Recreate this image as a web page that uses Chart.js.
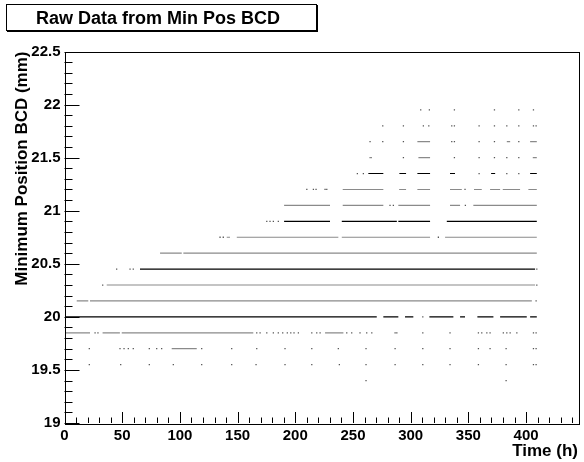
<!DOCTYPE html>
<html>
<head>
<meta charset="utf-8">
<script src="https://cdn.jsdelivr.net/npm/chart.js@4.4.1/dist/chart.umd.min.js"></script>
<style>
  body { margin: 0; background: #fff; }
  #wrap { position: relative; width: 584px; height: 462px; }
  #title {
    position: absolute; left: 6px; top: 4px; width: 309px; height: 25px;
    border: 1px solid #000; box-shadow: 1px 1px 0 #000; background: #fff;
    font: bold 18px "Liberation Sans", Arial, sans-serif; line-height: 26px;
    box-sizing: content-box; text-indent: 29px; white-space: nowrap;
  }
  canvas { position: absolute; left: 0; top: 0; }
</style>
</head>
<body>
<div id="wrap">
  <canvas id="chart" width="584" height="462"></canvas>
  <div id="title">Raw Data from Min Pos BCD</div>
</div>
<script>
// axis ranges and ticks
const xRange = [0, 445];
const yRange = [19, 22.5];
const xTickLabels = [0, 50, 100, 150, 200, 250, 300, 350, 400];
const yTickLabels = [19, 19.5, 20, 20.5, 21, 21.5, 22, 22.5];

// bands that render crisp/dark in the reference
const darkBands = [20.0, 20.45, 20.9, 21.35, 21.8];

// continuous runs of readings: [position (mm), [[t start, t end], ...]]
const bandSegments = [
  [21.65, [[305.8, 316.8], [383.3, 386.2], [403.5, 409.3]]],
  [21.5, [[264.2, 266.5], [306.7, 316.8], [405.8, 409.3]]],
  [21.35, [[263.3, 276.3], [290.2, 296.0], [305.8, 316.8], [334.1, 338.4], [369.7, 373.2], [403.5, 409.3]]],
  [21.2, [[241.1, 276.3], [290, 296], [305.8, 316.8], [334.1, 344.3], [354.9, 361.6], [368.8, 377.5], [379.8, 394.8], [402, 409.3]]],
  [21.05, [[190.3, 230.1], [241.1, 276.3], [289.3, 316.8], [334.1, 342.8], [354.3, 409.3]]],
  [20.9, [[190.3, 230.1], [240.3, 288], [289.3, 316.8], [331.3, 409.3]]],
  [20.75, [[140.6, 143.4], [149.3, 237.3], [240.3, 316.8], [329.8, 409.3]]],
  [20.6, [[82.8, 101.6], [103, 409.3]]],
  [20.45, [[65.4, 407.8]]],
  [20.3, [[36.6, 407.8]]],
  [20.15, [[10.6, 20.6], [22.1, 405]]],
  [20.0, [[0.4, 270.6], [276.3, 289.3], [295.1, 302.3], [316.2, 337], [342.8, 347.1], [357.8, 371.7], [377.5, 400.6], [403.5, 409.3]]],
  [19.85, [[0.4, 22.1], [33, 48], [49.6, 163.6], [225.8, 241.7]]],
  [19.7, [[92.9, 114.6]]],
];

// isolated readings: [position (mm), [t, ...]]
const scatterDots = [
  [21.95, [308.7, 316.2, 337.9, 372.6, 393.7, 406.4]],
  [21.8, [275.8, 293.7, 311.0, 315.7, 335.6, 337.9, 359.3, 372.6, 383.3, 393.7, 406.4, 408.7]],
  [21.65, [264.8, 275.8, 293.7, 335.6, 337.9, 359.3, 372.6, 393.7]],
  [21.5, [293.7, 337.9, 359.3, 372.6, 383.3, 393.7]],
  [21.35, [253.8, 259.0, 359.3, 383.3, 393.7]],
  [21.2, [210, 215.7, 218, 225.8, 227.3, 347.1]],
  [21.05, [282.1, 285, 347.4]],
  [20.9, [175.3, 178.1, 181, 185.3]],
  [20.75, [134.8, 137.6, 324]],
  [20.45, [45.2, 56.8, 59.6, 409.3]],
  [20.3, [33.1, 409.3]],
  [20.15, [408.7]],
  [20.0, [310.5]],
  [19.85, [26.5, 29, 166.6, 169.5, 175.3, 181, 185.3, 189.1, 193.1, 196.1, 198.9, 202.7, 214.3, 218.6, 221.5,
           244.6, 248.9, 256.1, 261.9, 266.3, 286.5, 288, 310.5, 334.1, 358.7, 361.6, 366, 368.8, 380.3, 383.3,
           386.2, 392, 406.4, 408.7]],
  [19.7, [21.5, 48.1, 51.6, 55.3, 59.6, 73.5, 79.9, 84.2, 118.9, 144.9, 166.6, 191.1, 214.3, 237.3, 261.3,
          286.5, 310.5, 334.1, 358.7, 368.8, 382.7, 406.4, 408.7]],
  [19.55, [21.5, 48.7, 73.5, 94.3, 118.9, 144.9, 166, 191.1, 214.3, 238.2, 261.3, 286.5, 310.5, 334.1, 358.7,
           382.7, 406.4, 408.7]],
  [19.4, [261.3, 382.7]],
];

const FONT = '"Liberation Sans", Arial, sans-serif';

// segments -> line points, null breaks between runs
function segmentPoints(dark) {
  const pts = [];
  bandSegments.forEach(([y, runs]) => {
    if (darkBands.includes(y) !== dark) return;
    runs.forEach(([a, b]) => {
      pts.push({ x: a, y: y }, { x: b, y: y }, { x: b, y: null });
    });
  });
  return pts;
}

const dotPoints = [];
scatterDots.forEach(([y, ts]) => ts.forEach((t) => dotPoints.push({ x: t, y: y })));

// ROOT style frame with inward ticks on the left and bottom
const rootFrame = {
  id: "rootFrame",
  afterDraw(chart) {
    const { ctx, chartArea: a, scales } = chart;
    const xs = scales.x, ys = scales.y;
    ctx.save();
    ctx.strokeStyle = "#000";
    ctx.lineWidth = 1;
    ctx.strokeRect(Math.round(a.left) + 0.5, Math.round(a.top) + 0.5,
      Math.round(a.right - a.left), Math.round(a.bottom - a.top));
    ctx.beginPath();
    for (let v = 0; v <= 440; v += 10) {
      const px = Math.round(xs.getPixelForValue(v)) + 0.5;
      const len = v % 50 === 0 ? 11 : 5.5;
      ctx.moveTo(px, a.bottom);
      ctx.lineTo(px, a.bottom - len);
    }
    for (let i = 0; i <= 35; i++) {
      const v = 19 + i * 0.1;
      const py = Math.round(ys.getPixelForValue(v)) + 0.5;
      const len = i % 5 === 0 ? 15 : 8;
      ctx.moveTo(a.left, py);
      ctx.lineTo(a.left + len, py);
    }
    ctx.stroke();
    ctx.restore();
  },
};

new Chart(document.getElementById("chart").getContext("2d"), {
  type: "scatter",
  data: {
    datasets: [
      {
        data: segmentPoints(false),
        showLine: true,
        spanGaps: false,
        borderColor: "#8a8a8a",
        borderWidth: 1.2,
        pointRadius: 0,
      },
      {
        data: segmentPoints(true),
        showLine: true,
        spanGaps: false,
        borderColor: "#000",
        borderWidth: 1.1,
        pointRadius: 0,
      },
      {
        data: dotPoints,
        showLine: false,
        pointStyle: "rect",
        pointRadius: 0.9,
        borderWidth: 0,
        backgroundColor: "#555",
      },
    ],
  },
  options: {
    responsive: false,
    animation: false,
    devicePixelRatio: 1,
    layout: { padding: { top: 51.5, right: 6, left: 0, bottom: 0 } },
    plugins: { legend: { display: false }, tooltip: { enabled: false } },
    scales: {
      x: {
        type: "linear",
        min: xRange[0],
        max: xRange[1],
        grid: { display: false, drawTicks: false },
        border: { display: false },
        afterBuildTicks: (s) => { s.ticks = xTickLabels.map((v) => ({ value: v })); },
        afterFit: (s) => { s.height = 39; },
        ticks: { color: "#000", padding: 4, maxRotation: 0, font: { family: FONT, size: 15, weight: "bold" } },
        title: {
          display: true,
          text: "Time (h)",
          align: "end",
          color: "#000",
          padding: { top: 0, bottom: 0 },
          font: { family: FONT, size: 17, weight: "bold" },
        },
      },
      y: {
        type: "linear",
        min: yRange[0],
        max: yRange[1],
        grid: { display: false, drawTicks: false },
        border: { display: false },
        afterBuildTicks: (s) => { s.ticks = yTickLabels.map((v) => ({ value: v })); },
        afterFit: (s) => { s.width = 64.5; },
        ticks: { color: "#000", padding: 4, callback: (v) => String(v), font: { family: FONT, size: 15, weight: "bold" } },
        title: {
          display: true,
          text: "Minimum Position BCD (mm)",
          align: "end",
          color: "#000",
          padding: { top: 12, bottom: 0 },
          font: { family: FONT, size: 17, weight: "bold" },
        },
      },
    },
  },
  plugins: [rootFrame],
});
</script>
</body>
</html>
